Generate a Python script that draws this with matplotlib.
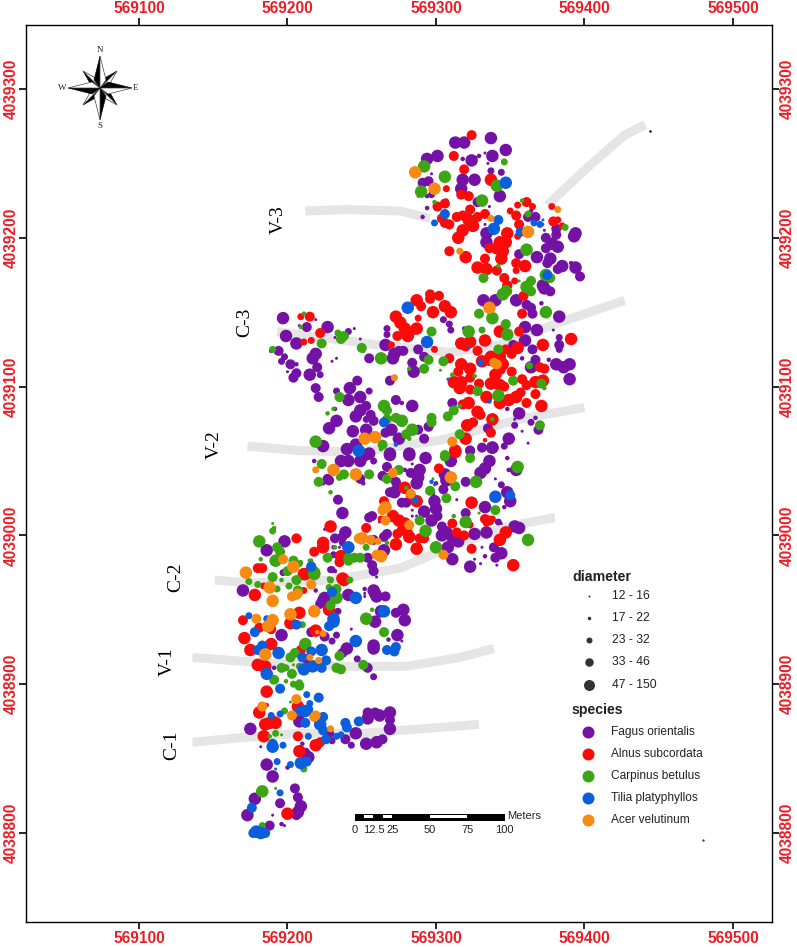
import numpy as np
import matplotlib
matplotlib.use("Agg")
import matplotlib.pyplot as plt
from matplotlib.patches import Rectangle, Polygon

# map offsets, tree tuples are (east, north, diameter class) in metres from here
EAST0 = 569000
NORTH0 = 4038700

fagus = [
    (313,564,5),(319,564,5),(337,567,5),(347,559,5),(301,555,5),(294,553,5),(324,552,5),(338,555,5),(318,553,2),(329,555,2),
    (333,557,1),(327,554,1),(335,550,1),(337,545,3),(344,544,3),(297,543,1),(326,539,5),(318,539,5),(317,533,5),(291,537,4),
    (295,538,4),(343,528,5),(328,524,4),(297,529,3),(294,528,2),(288,528,1),(307,525,2),(294,520,2),(291,514,2),(336,521,1),
    (367,514,4),(381,506,4),(394,503,5),(393,501,5),(374,500,4),(381,502,4),(378,496,5),(382,494,5),(374,493,4),(368,487,5),
    (377,486,5),(375,483,4),(356,489,4),(385,481,5),(382,479,4),(394,480,5),(397,474,4),(372,468,5),(334,503,5),(334,497,5),
    (333,509,1),(373,505,1),(372,509,1),(362,514,4),(364,518,2),(391,483,2),
    (197,446,5),(199,434,5),(206,429,5),(227,440,5),(213,440,4),(194,424,4),(189,424,2),(219,422,5),(217,419,5),(198,420,3),
    (196,417,3),(202,415,4),(206,415,2),(220,413,4),(215,408,5),(206,409,4),(204,406,4),(222,408,3),(200,410,1),(219,399,4),
    (221,393,4),(208,441,1),(219,445,1),(241,437,3),(245,439,1),(232,433,1),(249,432,1),(233,419,1),(230,417,1),(255,419,4),
    (242,399,5),(247,404,4),(255,397,3),(233,397,3),(249,393,5),(241,391,5),(253,387,4),(249,384,5),(246,380,5),(256,381,4),
    (258,377,4),(253,378,3),(233,377,5),(228,372,5),(244,370,5),(253,371,5),(246,361,5),(240,358,5),(224,360,5),(232,385,2),
    (267,439,3),(267,435,3),(266,428,5),(272,422,5),(271,419,5),(275,424,4),(278,424,4),(288,425,4),(292,420,4),(284,416,4),
    (285,410,5),(269,404,4),(273,391,4),(284,387,5),(277,389,2),(270,371,5),(275,365,5),(266,369,4),(292,365,4),(295,373,4),
    (288,371,4),(269,355,5),(282,355,5),(255,355,5),(305,445,3),(309,442,3),(310,438,3),(319,439,2),(332,458,5),(340,458,5),
    (354,458,5),(361,455,4),(364,453,4),(365,449,4),(371,456,2),(373,466,5),(377,464,4),(383,447,5),(360,440,5),(368,438,5),
    (360,431,5),(352,428,4),(365,425,4),(383,433,3),(383,428,4),(383,425,3),(367,418,4),(364,413,5),(376,418,2),(381,415,5),
    (386,413,5),(390,415,5),(390,405,5),(358,419,2),(348,385,2),(356,382,5),(364,376,3),(353,374,3),(369,371,4),(349,365,5),
    (331,359,4),(338,359,5),(346,360,2),(323,357,4),(335,372,4),(311,389,4),(358,370,1),(362,362,1),(353,378,1),(379,438,1),
    (367,379,2),
    (236,350,5),(241,350,5),(249,350,5),(252,354,5),(269,354,5),(282,354,5),(293,352,5),(218,350,2),(258,350,3),(267,346,4),
    (264,340,4),(269,339,4),(283,342,4),(289,344,5),(288,339,5),(287,335,5),(279,344,2),(284,348,1),(273,336,4),(274,333,4),
    (269,329,4),(272,329,5),(277,322,4),(280,322,4),(292,316,5),(299,323,5),(300,318,5),(297,310,5),(301,313,4),(305,331,4),
    (300,335,2),(306,341,5),(307,337,5),(310,350,5),(320,336,4),(330,342,5),(333,345,5),(336,350,5),(323,357,4),(338,359,5),
    (346,360,3),(348,352,2),(349,344,2),(354,344,5),(344,334,3),(348,329,5),(350,323,5),(333,319,5),(320,315,4),(346,319,2),
    (340,338,1),(314,324,1),(304,306,4),(234,324,4),(237,315,5),(239,302,5),(237,299,4),(257,313,4),(255,312,4),(267,301,4),
    (265,299,4),(232,298,4),(237,295,3),(231,292,2),(235,292,1),(225,304,1),(284,317,1),(287,313,1),(284,313,1),(258,297,4),
    (265,290,5),(254,285,4),(231,287,3),(228,286,2),(257,280,4),(258,276,4),(230,277,3),(232,276,2),(260,272,1),(308,292,5),
    (304,300,5),(307,302,5),(311,299,5),(315,296,5),(326,301,5),(334,302,5),(353,306,5),(356,305,5),(344,308,1),(342,309,3),
    (339,292,4),(344,288,5),(340,285,4),(311,284,5),(323,279,5),(330,281,1),(331,292,1),(333,286,2),(341,280,1),(249,338,4),
    (251,335,2),(224,335,2),(227,338,4),(228,337,4),(262,309,1),(298,328,2),(326,284,1),
    (198,296,5),(186,290,5),(170,263,5),(224,256,5),(222,254,4),(225,258,5),(241,260,5),(258,263,5),(260,259,5),(259,261,5),
    (266,259,4),(252,264,2),(252,259,1),(252,261,1),(278,250,5),(279,243,5),(273,248,4),(263,249,5),(259,242,5),(274,233,5),
    (258,226,5),(258,224,5),(240,224,5),(237,221,4),(196,233,5),(216,235,4),(225,232,4),(230,229,3),(233,233,3),(243,237,1),
    (277,229,1),(268,230,2),(213,217,4),(247,217,3),(254,211,4),(258,205,3),(219,263,2),(191,211,2),(197,275,3),(234,249,3),
    (229,277,3),
    (175,170,5),(208,175,5),(228,167,4),(239,163,4),(243,159,3),(246,167,5),(253,160,5),(260,161,5),(264,163,4),(254,177,5),
    (254,181,4),(259,181,4),(262,179,5),(269,181,5),(269,176,4),(269,170,5),(214,151,5),(212,154,4),(186,146,5),(190,138,5),
    (200,144,2),(182,158,1),(205,130,4),(207,124,4),(195,120,4),(209,118,5),(207,114,5),(206,112,4),(178,123,5),(173,112,5),
    (188,105,4),(196,106,2),(198,105,1),(190,112,1),(210,160,2),(230,162,3),
]

alnus = [
    (324,569,4),(312,555,4),(319,546,4),(337,539,5),(307,533,3),(317,529,4),(322,528,4),(306,523,4),(301,521,4),(323,519,4),
    (304,513,4),(309,509,4),(306,510,4),(314,514,4),(318,515,4),(322,512,5),(328,514,4),(333,516,4),(325,508,5),(318,505,5),
    (315,500,5),(309,491,4),(320,487,5),(350,518,3),(355,522,3),(361,524,4),(365,521,3),(354,515,4),(356,509,4),(348,503,5),
    (343,497,5),(347,497,5),(341,493,5),(345,491,5),(336,493,4),(344,486,5),(333,486,4),(354,483,4),(360,481,5),(354,478,3),
    (328,480,5),(334,479,5),(341,478,4),(346,473,4),(353,471,3),(348,468,4),(378,521,3),(379,511,4),(382,512,3),(385,508,3),
    (355,501,3),
    (215,447,4),(209,447,3),(222,436,4),(216,431,3),(211,430,3),(270,428,3),(273,447,5),(276,443,5),(279,439,5),(287,439,5),
    (283,437,4),(281,434,5),(274,434,4),(288,446,3),(287,458,5),(290,454,4),(296,462,4),(296,459,4),(302,461,4),(306,454,5),
    (310,450,5),(298,450,5),(299,425,3),(309,419,4),(348,468,4),(359,461,4),(358,449,4),(343,437,5),(333,431,5),(317,429,5),
    (323,430,5),(320,427,4),(328,424,4),(317,415,5),(323,412,5),(315,410,4),(312,403,5),(316,399,5),(323,406,4),(329,402,4),
    (317,403,5),(323,398,4),(331,417,5),(337,420,5),(343,420,5),(345,415,5),(340,408,5),(337,402,5),(343,401,5),(346,400,4),
    (351,410,4),(336,418,5),(343,412,5),(334,393,5),(343,389,5),(349,391,5),(354,393,5),(357,396,4),(358,405,4),(361,401,4),
    (367,403,5),(372,404,5),(367,395,4),(361,389,4),(371,387,5),(322,389,5),(318,388,4),(328,383,5),(330,381,4),(321,374,5),
    (325,376,4),(338,378,5),(337,369,4),(333,364,2),(320,365,5),(313,357,5),(355,426,5),(351,422,4),(347,425,4),(356,437,4),
    (372,428,5),(391,432,5),(370,413,4),(373,412,4),
    (313,356,5),(302,345,4),(279,332,5),(283,327,4),(287,323,5),(265,323,4),(324,322,5),(265,317,2),(263,311,3),(271,313,5),
    (275,310,5),(279,308,5),(278,304,5),(274,301,4),(282,299,5),(281,302,4),(289,298,4),(292,298,4),(287,291,5),(273,294,5),
    (253,305,4),(229,306,5),(224,295,5),(224,292,5),(218,289,4),(236,286,5),(235,282,4),(237,271,5),(212,274,5),(311,308,4),
    (323,307,3),(314,302,4),(319,300,4),(333,311,4),(336,310,4),(338,311,3),(334,308,3),(347,302,5),(343,297,5),(324,291,4),
    (352,280,5),(208,298,2),
    (206,298,4),(180,278,4),(183,278,4),(211,274,5),(178,260,5),(184,266,3),(211,263,3),(208,248,5),(170,243,4),(181,238,4),
    (202,241,5),(189,237,4),(171,231,5),(189,227,5),(175,223,5),(219,236,5),(228,250,5),(238,270,5),(209,223,4),(180,213,5),
    (184,212,5),(185,212,5),
    (186,195,5),(207,185,5),(181,181,5),(185,173,5),(188,174,5),(192,174,5),(190,176,4),(184,165,5),(207,165,4),(219,159,5),
    (222,161,4),(208,155,5),(200,113,5),(186,186,2),
]

carpinus = [
    (292,548,5),(306,541,5),(346,551,3),(341,535,5),(290,531,5),(331,525,5),(299,524,2),(361,492,5),(342,481,2),(332,473,4),
    (374,475,5),(377,473,4),(364,471,4),(361,467,5),(358,525,2),(362,516,3),(387,507,3),(356,471,1),(347,465,4),
    (211,449,2),(209,440,2),(234,436,3),(223,429,4),(238,434,4),(236,432,4),(250,426,4),(251,424,2),(263,419,5),(297,437,4),
    (295,418,4),(292,412,4),(282,412,2),(190,425,3),(305,417,4),(303,411,1),(322,437,5),(331,438,3),(329,449,4),(338,446,5),
    (347,442,4),(348,435,5),(342,425,4),(374,450,5),(345,462,5),(348,464,4),(364,464,4),(326,407,2),(311,408,2),(352,404,4),
    (328,397,4),(342,394,5),(371,402,4),(373,399,2),(363,414,3),(265,387,5),(267,384,4),(273,379,4),(277,377,5),(297,379,4),
    (297,376,4),(284,371,5),(280,368,4),(282,365,2),(267,378,4),(235,393,4),(227,382,2),(231,385,2),(219,363,5),(264,361,4),
    (263,358,2),(316,368,4),(316,387,2),(312,384,4),(308,380,4),(370,374,4),(338,378,2),(306,354,4),
    (223,348,4),(221,336,4),(238,341,4),(235,339,3),(255,341,4),(275,344,4),(267,338,4),(229,329,2),(280,332,2),(296,330,4),
    (295,329,2),(307,325,4),(313,333,4),(327,336,5),(323,352,4),(306,353,4),(355,346,5),(340,317,4),(320,309,5),(289,310,4),
    (293,303,5),(312,313,2),(300,292,5),(362,297,5),(253,292,3),(241,285,4),(241,283,4),(245,285,4),(249,285,4),(227,285,4),
    (218,274,5),(215,283,2),(209,282,2),(232,292,2),(267,295,2),(228,271,2),(329,315,1),(298,338,1),
    (190,308,1),(191,305,2),(190,303,3),(181,296,5),(193,292,4),(195,289,4),(182,284,2),(192,283,5),(204,283,4),(208,281,3),
    (200,276,4),(216,283,2),(218,275,5),(174,269,3),(180,267,3),(190,272,4),(196,270,2),(206,270,4),(201,266,3),(193,264,3),
    (207,263,4),(229,270,3),(228,265,3),(233,264,4),(233,258,5),(242,270,3),(229,253,4),(253,244,5),(265,235,4),(257,250,2),
    (212,227,5),(205,221,4),(202,218,4),(235,219,4),(251,213,4),(233,211,4),(236,210,4),(196,211,4),(199,211,3),(208,212,3),
    (203,207,4),(191,203,4),(202,208,2),(208,201,3),(204,213,1),(210,240,3),
    (198,182,3),(202,188,1),(192,167,3),(188,165,2),(196,166,1),(211,143,3),(183,128,5),(183,105,3),(192,130,1),(208,199,4),
    (204,200,3),(199,202,2),
]

tilia = [
    (347,537,5),(306,516,4),(299,510,3),(342,512,4),(339,506,5),(357,504,4),(366,510,3),(370,509,3),(372,512,1),(375,475,4),
    (281,453,5),(294,430,5),(330,416,3),(265,376,4),(248,357,5),(273,361,2),(336,390,2),(308,405,1),(322,426,1),
    (241,292,5),(216,279,4),(286,324,3),(340,326,5),(350,327,4),(297,336,2),(299,334,1),
    (216,279,4),(230,262,4),(246,258,5),(174,246,3),(186,244,3),(231,244,5),(231,242,5),(228,239,4),(206,240,4),(178,235,4),
    (183,226,4),(180,223,4),(194,221,5),(216,222,4),(223,223,5),(226,216,4),(217,212,5),(211,210,5),(223,211,4),(246,229,5),
    (267,223,4),(272,222,4),(273,225,4),(265,249,5),(186,207,5),(210,218,4),
    (195,197,4),(213,193,3),(221,191,4),(215,187,3),(208,182,4),(212,182,5),(214,183,4),(195,180,3),(189,179,3),(212,174,4),
    (224,178,4),(222,173,5),(224,169,4),(226,163,4),(214,165,3),(239,174,4),(240,171,4),(233,165,3),(236,166,3),(248,175,4),
    (190,158,5),(190,160,4),(197,159,3),(193,148,3),(202,146,3),(209,147,5),(213,148,4),(192,143,1),(195,127,3),(176,117,4),
    (179,101,5),(182,100,5),(185,100,4),(177,100,4),
]

acer = [
    (286,544,5),(299,533,5),(337,513,3),(362,504,5),(316,491,3),(382,519,3),
    (336,453,5),(339,416,4),(341,415,4),(272,406,3),(252,365,5),(259,366,5),(311,363,4),
    (231,344,5),(246,341,5),(271,342,4),(310,339,5),(219,344,3),(283,328,4),(266,319,5),(264,317,4),(266,310,4),(282,307,4),
    (250,298,5),(256,297,4),(261,296,3),(260,287,4),(263,286,5),(305,287,4),(248,298,4),
    (172,275,5),(197,284,4),(204,279,5),(188,265,5),(190,256,5),(216,267,4),(207,261,4),(203,259,4),(206,260,4),(202,247,5),
    (218,249,5),(179,244,4),(190,243,5),(187,239,5),(185,220,5),(215,218,3),(221,216,3),(224,234,3),(220,235,2),
    (183,185,4),(203,179,4),(206,190,4),(219,179,4),(218,178,4),(229,170,3),
]

species_names = ["Fagus orientalis", "Alnus subcordata", "Carpinus betulus", "Tilia platyphyllos", "Acer velutinum"]
species_colors = ["#7412a6", "#fb0a0a", "#3ba513", "#0b5fdc", "#f68a12"]
diameter_labels = ["12 - 16", "17 - 22", "23 - 32", "33 - 46", "47 - 150"]
diameter_px = [3, 4.5, 7, 10, 12.5]

# survey strips, metres from the offsets
strips = {
    "V-3a": ([212, 239, 276, 296], [518, 519, 518, 513]),
    "V-3b": ([375, 404, 427, 441], [522, 549, 569, 576]),
    "C-3": ([193, 260, 309, 343, 383, 427], [437, 428, 423, 428, 443, 458]),
    "V-2": ([173, 208, 249, 303, 356, 400], [360, 357, 356, 364, 378, 386]),
    "C-2": ([151, 175, 231, 276, 309, 348, 380], [270, 268, 270, 278, 292, 306, 312]),
    "V-1": ([136, 188, 235, 280, 316, 339], [218, 214, 212, 212, 218, 224]),
    "C-1": ([136, 168, 208, 251, 303, 329], [161, 164, 167, 167, 171, 173]),
}
strip_labels = ["V-3", "C-3", "V-2", "C-2", "V-1", "C-1"]
label_east = [194, 171, 151, 125, 119, 122]
label_north = [512, 443, 361, 272, 215, 159]

x_ticks = [569100, 569200, 569300, 569400, 569500]
y_ticks = [4038800, 4038900, 4039000, 4039100, 4039200, 4039300]

scale_ticks = [0, 12.5, 25, 50, 75, 100]
scale_labels = ["0", "12.5", "25", "50", "75", "100"]

SANS = "Liberation Sans"
SERIF = "Liberation Serif"

W, H = 797, 947
fig = plt.figure(figsize=(W / 100, H / 100), dpi=100)
ax = fig.add_axes([26 / W, 1 - 922 / H, (772 - 26) / W, (922 - 25) / H])
ax.set_xlim(569023.9, 569526.3)
ax.set_ylim(4038740.2, 4039343.0)

for east, north in strips.values():
    ax.plot(EAST0 + np.array(east), NORTH0 + np.array(north), color="#e5e5e5", lw=6.5,
            solid_capstyle="butt", solid_joinstyle="round", zorder=1)

# tiny stray marks on the map
ax.plot([EAST0 + 444], [NORTH0 + 572], "k.", ms=1.5, zorder=1)
ax.plot([EAST0 + 480], [NORTH0 + 95], "k.", ms=1, zorder=1)

def px_to_s(d):
    return (d * 0.72) ** 2

for z, (trees, color) in enumerate(zip([fagus, alnus, carpinus, tilia, acer], species_colors)):
    e, n, c = np.array(trees).T
    sizes = [px_to_s(diameter_px[k - 1]) for k in c]
    ax.scatter(EAST0 + e, NORTH0 + n, s=sizes, color=color, linewidths=0, zorder=2 + z)

for lab, e, n in zip(strip_labels, label_east, label_north):
    ax.text(EAST0 + e, NORTH0 + n, lab, rotation=90, ha="center", va="center",
            family=SERIF, fontsize=14, zorder=8)

# scale bar
ax.add_patch(Rectangle((EAST0 + 245.3, NORTH0 + 108.4), 101, 4.7, fc="black", ec="none", zorder=8))
for start, width in [(6.25, 6.25), (18.75, 6.25), (50, 25)]:
    ax.add_patch(Rectangle((EAST0 + 245.3 + start * 1.01, NORTH0 + 110.1), width * 1.01, 2.3,
                           fc="white", ec="none", zorder=9))
for t, lab in zip(scale_ticks, scale_labels):
    ax.text(EAST0 + 245.3 + t * 1.01, NORTH0 + 102, lab, ha="center", va="center",
            family=SANS, fontsize=8, color="#222222")
ax.text(EAST0 + 348, NORTH0 + 111.5, "Meters", ha="left", va="center", family=SANS, fontsize=8, color="#222222")

ax.set_xticks(x_ticks)
ax.set_yticks(y_ticks)
ax.set_xticklabels([str(v) for v in x_ticks])
ax.set_yticklabels([str(v) for v in y_ticks], rotation=90, va="center")
ax.tick_params(axis="x", which="major", length=5, width=1.2, direction="out", pad=1.5,
               top=True, labeltop=True, labelsize=11.2, labelcolor="#ee1c25")
ax.tick_params(axis="y", which="major", length=5, width=1.2, direction="out", pad=0.5,
               right=True, labelright=True, labelsize=11.2, labelcolor="#ee1c25")
for lab in ax.get_xticklabels() + ax.get_yticklabels():
    lab.set_family(SANS)
    lab.set_fontweight("bold")
for side in ax.spines.values():
    side.set_linewidth(1.0)

# overlay in picture pixels for legend and north arrow
ov = fig.add_axes([0, 0, 1, 1], facecolor="none")
ov.set_xlim(0, W)
ov.set_ylim(H, 0)
ov.axis("off")

ov.text(572, 577, "diameter", family=SANS, fontweight="bold", fontsize=10.2, va="center", color="#222222")
for y, lab, d in zip([596, 618, 640, 662, 685], diameter_labels, [2, 3.5, 6, 8.5, 11]):
    ov.scatter([589], [y], s=px_to_s(d), color="#333333", linewidths=0)
    ov.text(612, y, lab, family=SANS, fontsize=8.7, va="center", color="#222222")
ov.text(572, 710, "species", family=SANS, fontweight="bold", fontsize=10.2, va="center", color="#222222")
for y, lab, col in zip([732, 754, 776, 798, 820], species_names, species_colors):
    ov.scatter([588], [y], s=px_to_s(12), color=col, linewidths=0)
    ov.text(611, y, lab, family=SANS, fontsize=8.6, va="center", color="#222222")

# compass rose, diagonals first so the long points sit on top
cx, cy = 100, 88
for ang, r, w in [(45, 24, 5), (135, 24, 5), (225, 24, 5), (315, 24, 5), (0, 32, 6), (90, 32, 6), (180, 32, 6), (270, 32, 6)]:
    a = np.deg2rad(ang)
    ux, uy = np.sin(a), -np.cos(a)
    vx, vy = np.cos(a), np.sin(a)
    tip = (cx + r * ux, cy + r * uy)
    base = r * 0.25
    left = (cx + base * ux - w * vx, cy + base * uy - w * vy)
    right = (cx + base * ux + w * vx, cy + base * uy + w * vy)
    ov.add_patch(Polygon([tip, (cx, cy), left], fc="black", ec="black", lw=0.4, zorder=3))
    ov.add_patch(Polygon([tip, (cx, cy), right], fc="white", ec="#444444", lw=0.5, zorder=3))
for lab, x, y in [("N", 100, 50), ("S", 100, 126), ("W", 62, 88), ("E", 136, 88)]:
    ov.text(x, y, lab, family=SERIF, fontsize=6.5, ha="center", va="center", color="#222222")

fig.savefig("out.png", dpi=100)
